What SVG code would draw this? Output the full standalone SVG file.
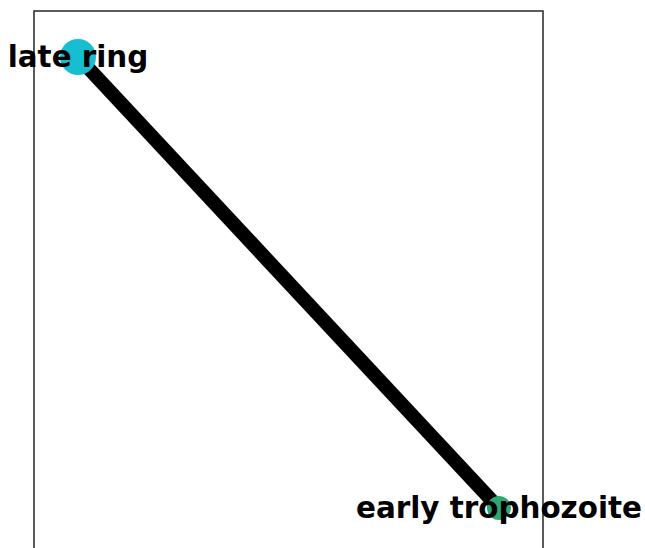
<svg xmlns="http://www.w3.org/2000/svg" width="645" height="548" viewBox="0 0 645 548">
  <style>
    .lbl { font-family: "DejaVu Sans", "Liberation Sans", sans-serif; font-weight: bold; font-size: 29.4px; fill: #000; text-anchor: middle; }
    .edge { stroke: #000; stroke-width: 14; stroke-linecap: butt; }
  </style>
  <rect x="0" y="0" width="645" height="548" fill="#fff"/>
  <rect id="axes" x="34" y="11" width="509" height="560" fill="none" stroke="#262626" stroke-width="1.5"/>
  <g id="connectors">
    <line class="edge" x1="78" y1="57" x2="496" y2="505"/>
  </g>
  <g id="node-late-ring">
    <circle cx="78" cy="57" r="18" fill="#17becf"/>
    <text class="lbl" x="78" y="67">late ring</text>
  </g>
  <g id="node-early-trophozoite">
    <circle cx="499" cy="508" r="12" fill="#2ca874"/>
    <text class="lbl" x="499" y="518">early trophozoite</text>
  </g>
</svg>
